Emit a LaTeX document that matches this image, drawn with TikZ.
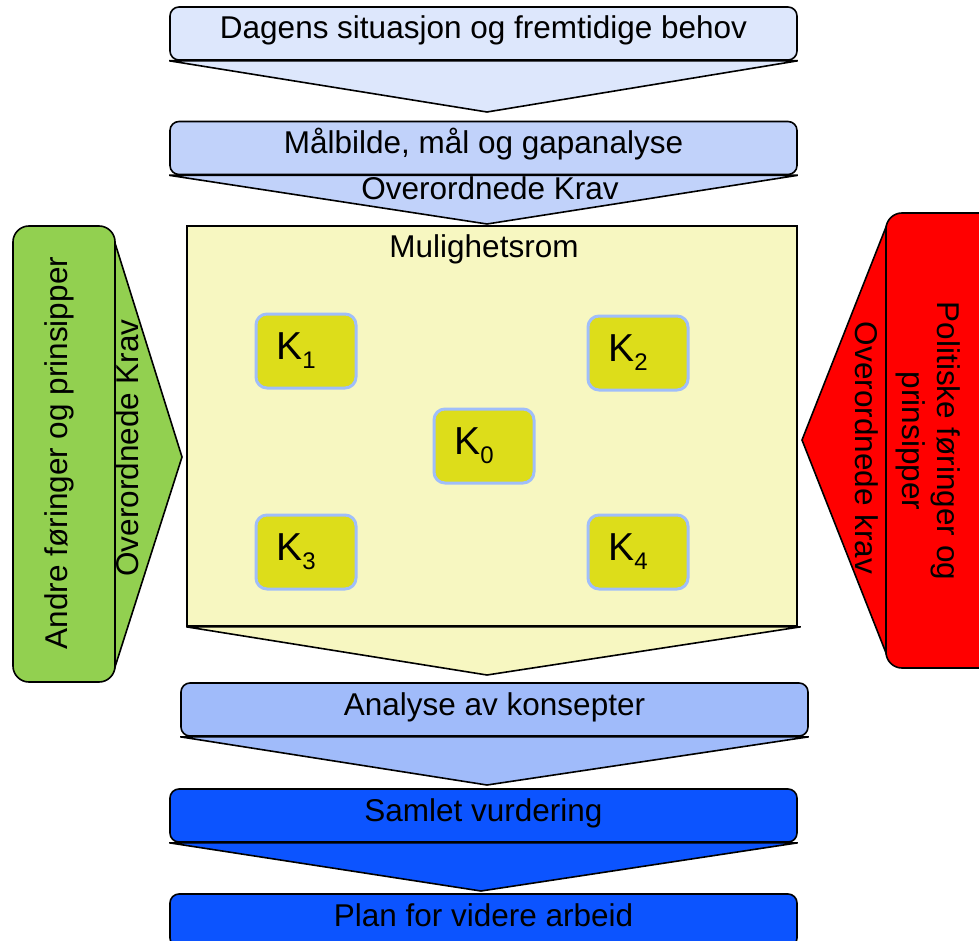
\documentclass[tikz,border=0pt]{standalone}
\usepackage{fontspec}
\setmainfont{Liberation Sans}
\usetikzlibrary{positioning}

\definecolor{dagensblue}{RGB}{221,231,252}
\definecolor{maalblue}{RGB}{193,210,250}
\definecolor{romyellow}{RGB}{247,247,193}
\definecolor{analyseblue}{RGB}{160,187,250}
\definecolor{vurderblue}{RGB}{12,84,255}
\definecolor{kfill}{RGB}{221,221,26}
\definecolor{kborder}{RGB}{160,190,250}
\definecolor{andregreen}{RGB}{146,208,80}
\definecolor{politiskred}{RGB}{255,0,0}

\newcommand{\bigfont}{\fontsize{31.5}{35}\selectfont}
\newcommand{\kfont}{\fontsize{39}{42}\selectfont}
\newcommand{\ksub}[1]{\raisebox{-9pt}{\fontsize{24}{24}\selectfont #1}\kern20pt}

\begin{document}
\begin{tikzpicture}[
    x=1pt, y=-1pt,
    box/.style={rectangle, rounded corners=9pt, minimum width=627pt, minimum height=53pt, text centered, draw=black, line width=1.6pt, font=\bigfont, text height=23pt, text depth=12pt, inner sep=0pt},
    chevron/.style={draw=black, line width=1.6pt},
    kbox/.style={rectangle, rounded corners=11pt, minimum width=100pt, minimum height=74pt, draw=kborder, line width=3pt, fill=kfill, font=\kfont, inner sep=0pt},
    sidebox/.style={rectangle, rounded corners=16pt, draw=black, line width=1.6pt, inner sep=0pt},
    tekst/.style={font=\bigfont, inner sep=0pt}
]
\useasboundingbox (0,0) rectangle (979,941);
\clip (0,0) rectangle (979,941);

% Row 1: current situation
\node (dagens) [box, fill=dagensblue] at (483.5,33.5) {Dagens situasjon og fremtidige behov};
\draw[chevron, fill=dagensblue] (dagens.south west) -- (487,112) -- (dagens.south east) -- cycle;

% Row 2: target picture
\node (maal) [box, fill=maalblue] at (483.5,148) {Målbilde, mål og gapanalyse};
\draw[chevron, fill=maalblue] (maal.south west) -- (487,224) -- (maal.south east) -- cycle;
\node (krav) [tekst] at (490,188.5) {Overordnede Krav};

% Row 3: option space
\node (rom) [rectangle, draw=black, line width=1.6pt, fill=romyellow, minimum width=610pt, minimum height=400pt] at (492,426) {};
\draw[chevron, fill=romyellow] (rom.south west) -- (487,675) -- ([xshift=3pt]rom.south east) -- cycle;
\node (romtittel) [tekst] at (484,249) {Mulighetsrom};

% Concepts
\node (k1) [kbox] at (306,351) {K\ksub{1}};
\node (k2) [kbox] at (638,353) {K\ksub{2}};
\node (k0) [kbox] at (484,446) {K\ksub{0}};
\node (k3) [kbox] at (306,552) {K\ksub{3}};
\node (k4) [kbox] at (638,552) {K\ksub{4}};

% Left side: other guidelines
\draw[chevron, fill=andregreen] (115,243) -- (182,457) -- (115,667) -- cycle;
\node (andre) [sidebox, fill=andregreen, minimum width=102pt, minimum height=456pt] at (64,454) {};
\node (andretekst) [tekst, rotate=90] at (59,453) {Andre føringer og prinsipper};
\node (andrekrav) [tekst, rotate=90] at (127,448) {Overordnede Krav};

% Right side: political guidelines
\draw[chevron, fill=politiskred] (886,227) -- (802,440) -- (886,653) -- cycle;
\node (politisk) [sidebox, fill=politiskred, minimum width=124pt, minimum height=455pt] at (948,440.5) {};
\node (politisktekst) [tekst, rotate=-90, align=center] at (928,441) {Politiske føringer og\\prinsipper};
\node (politiskkrav) [tekst, rotate=-90] at (867,448) {Overordnede krav};

% Row 4: analysis
\node (analyse) [box, fill=analyseblue] at (494.5,709.5) {Analyse av konsepter};
\draw[chevron, fill=analyseblue] (analyse.south west) -- (487,785) -- (analyse.south east) -- cycle;

% Row 5: overall assessment
\node (samlet) [box, fill=vurderblue] at (483.5,815.5) {Samlet vurdering};
\draw[chevron, fill=vurderblue] (samlet.south west) -- (481,891) -- (samlet.south east) -- cycle;

% Row 6: further work
\node (plan) [box, fill=vurderblue] at (483.5,920.5) {Plan for videre arbeid};

\end{tikzpicture}
\end{document}
